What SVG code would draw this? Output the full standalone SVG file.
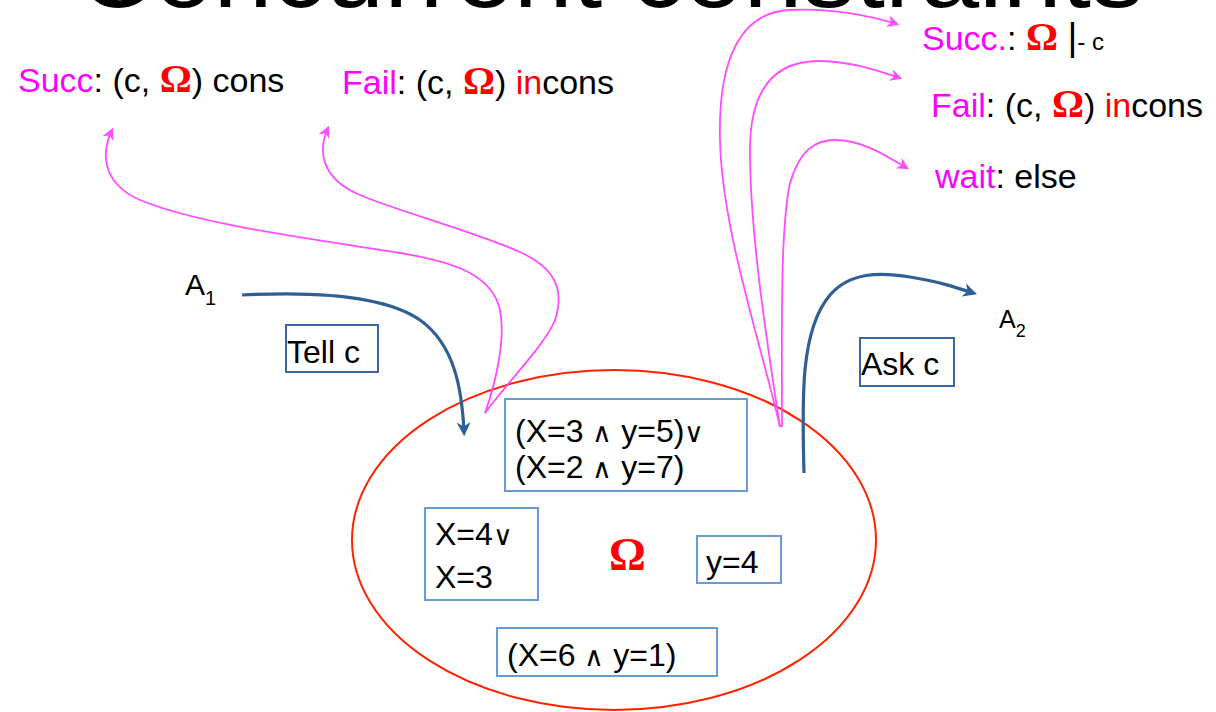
<svg xmlns="http://www.w3.org/2000/svg" width="1216" height="712" viewBox="0 0 1216 712">
<style>
text{font-family:"Liberation Sans",Arial,sans-serif;fill:#000}
.lbl{font-size:34px}
.mg{fill:#ff00ff}
.om{font-family:"Liberation Serif","Times New Roman",serif;font-weight:bold;fill:#ff0000}
.oml{font-size:40px}
.red{fill:#ff0000}
.box{fill:#fff;stroke:#6a9bd3;stroke-width:2}
.dbox{fill:#fff;stroke:#3b679c;stroke-width:2}
.bt{font-size:32px}
.op{font-size:27px}
.pink{fill:none;stroke:#ff4dff;stroke-width:1.8}
.blue{fill:none;stroke:#2f5f94;stroke-width:3.2}
</style>
<defs>
<marker id="pa" markerUnits="userSpaceOnUse" viewBox="0 0 10 10" refX="8" refY="5" markerWidth="15" markerHeight="12" orient="auto">
<path d="M0,0 L10,5 L0,10 L3,5 z" fill="#ff4dff"/>
</marker>
<marker id="ba" markerUnits="userSpaceOnUse" viewBox="0 0 10 10" refX="7" refY="5" markerWidth="18" markerHeight="14" orient="auto">
<path d="M0,0 L10,5 L0,10 L3,5 z" fill="#2f5f94"/>
</marker>
</defs>
<rect width="1216" height="712" fill="#fff"/>
<g id="title"><text x="78" y="7" font-size="100" textLength="1066" lengthAdjust="spacingAndGlyphs">Concurrent constraints</text></g>
<g id="store"><ellipse cx="614" cy="540" rx="262" ry="170" fill="none" stroke="#ff2200" stroke-width="2"/></g>
<g id="connectors">
<path class="pink" marker-end="url(#pa)" d="M485,413 C495,385 506,340 500,310 C492,275 455,262 400,253 C320,240 200,225 140,200 C108,186 98,160 112,130"/>
<path class="pink" marker-end="url(#pa)" d="M485,413 C505,385 545,345 555,320 C565,290 555,268 520,252 C470,230 400,212 360,195 C320,178 318,150 328,128"/>
<path class="pink" marker-end="url(#pa)" d="M780,427 C760,340 722,230 720,140 C718,60 740,12 790,10 C830,8 870,16 897,24"/>
<path class="pink" marker-end="url(#pa)" d="M780,427 C765,330 750,230 750,150 C750,95 770,62 817,61 C850,61 875,70 900,78"/>
<path class="pink" marker-end="url(#pa)" d="M782,427 C782,330 780,230 790,183 C800,150 815,140 835,140 C860,140 880,152 907,168"/>
<path class="blue" marker-end="url(#ba)" d="M242,295 C300,292 380,292 420,320 C455,345 462,390 464,432"/>
<path class="blue" marker-end="url(#ba)" d="M804,473 C802,400 800,330 830,295 C850,272 880,272 910,277 C940,282 955,287 973,293"/>
</g>
<g id="succ-left"><text class="lbl" x="18" y="92"><tspan class="mg">Succ</tspan>: (c, <tspan class="om oml">Ω</tspan>) cons</text></g>
<g id="fail-left"><text class="lbl" x="342" y="94"><tspan class="mg">Fail</tspan>: (c, <tspan class="om oml">Ω</tspan>) <tspan class="red">in</tspan>cons</text></g>
<g id="succ-right"><text class="lbl" x="922" y="50"><tspan class="mg">Succ.</tspan>: <tspan class="om oml">Ω</tspan> <tspan font-size="38">|</tspan><tspan font-size="24">- c</tspan></text></g>
<g id="fail-right"><text class="lbl" x="931" y="117"><tspan class="mg">Fail</tspan>: (c, <tspan class="om oml">Ω</tspan>) <tspan class="red">in</tspan>cons</text></g>
<g id="wait-right"><text class="lbl" x="935" y="188"><tspan class="mg">wait</tspan>: else</text></g>
<g id="A1"><text x="185" y="295" font-size="30">A<tspan font-size="20" dy="10">1</tspan></text></g>
<g id="A2"><text x="999" y="328" font-size="25">A<tspan font-size="18" dy="9">2</tspan></text></g>
<g id="tell"><rect class="dbox" x="286" y="325" width="92" height="47"/><text class="bt" x="287" y="363">Tell c</text></g>
<g id="ask"><rect class="dbox" x="860" y="338" width="94" height="48"/><text class="bt" x="861" y="375">Ask c</text></g>
<g id="c1"><rect class="box" x="505" y="399" width="242" height="92"/><text class="bt" x="515" y="442">(X=3 <tspan class="op">∧</tspan> y=5)<tspan class="op">∨</tspan></text><text class="bt" x="515" y="478">(X=2 <tspan class="op">∧</tspan> y=7)</text></g>
<g id="c2"><rect class="box" x="425" y="508" width="113" height="92"/><text class="bt" x="435" y="545">X=4<tspan class="op">∨</tspan></text><text class="bt" x="435" y="588">X=3</text></g>
<g id="omega"><text class="om" x="609" y="570" font-size="46">Ω</text></g>
<g id="c3"><rect class="box" x="697" y="536" width="84" height="47"/><text class="bt" x="706" y="573">y=4</text></g>
<g id="c4"><rect class="box" x="497" y="628" width="220" height="48"/><text class="bt" x="507" y="666">(X=6 <tspan class="op">∧</tspan> y=1)</text></g>
</svg>
